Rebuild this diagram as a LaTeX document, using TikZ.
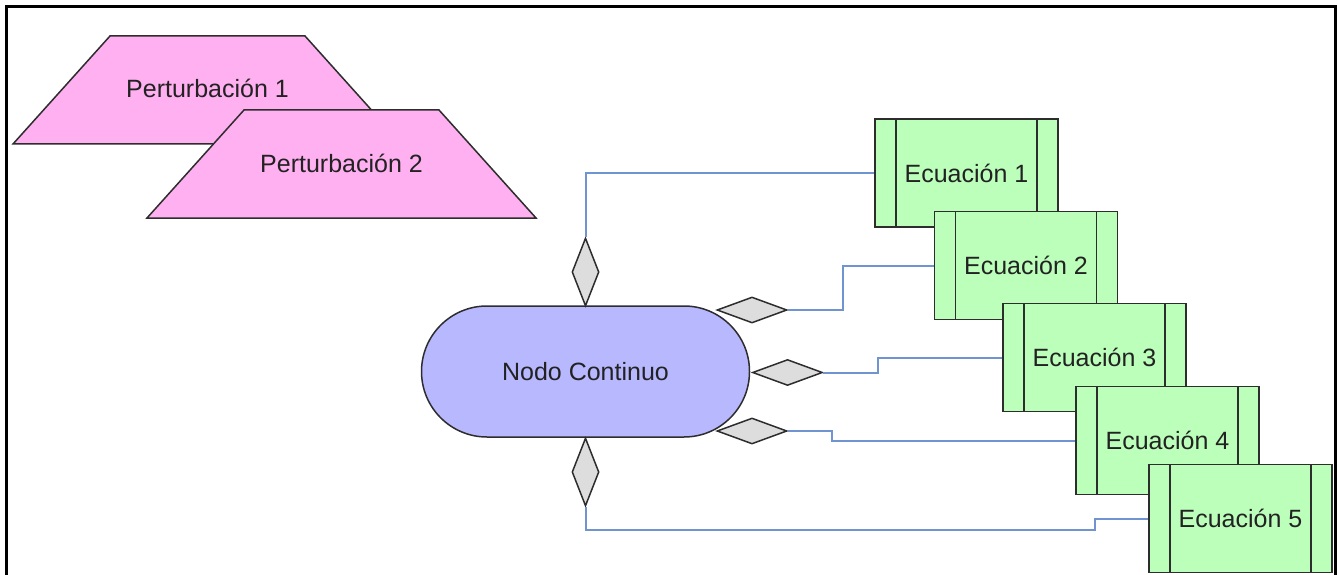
\documentclass[tikz,border=0pt]{standalone}
\usepackage{fontspec}
\setmainfont{Liberation Sans}
\usetikzlibrary{shapes.geometric}
\definecolor{pinkfill}{RGB}{255,176,240}
\definecolor{nodefill}{RGB}{184,184,255}
\definecolor{eqfill}{RGB}{187,255,187}
\definecolor{dmfill}{RGB}{221,221,221}
\definecolor{edgeblue}{RGB}{111,148,208}
\definecolor{outline}{RGB}{45,45,45}
\definecolor{txt}{RGB}{34,34,34}
\begin{document}
\begin{tikzpicture}[x=1pt,y=-1pt,
  lbl/.style={font=\fontsize{25}{30}\selectfont, text=txt, inner sep=0pt},
  trap/.style={fill=pinkfill, draw=outline, line width=1.5pt, line join=miter},
  stadium/.style={draw=outline, fill=nodefill, line width=1.5pt, rounded corners=65.5pt,
     minimum width=328pt, minimum height=131pt, inner sep=0pt, font=\fontsize{25}{30}\selectfont, text=txt},
  dmv/.style={diamond, draw=outline, fill=dmfill, line width=1.5pt, inner sep=0pt,
     minimum width=27pt, minimum height=68pt},
  dmh/.style={diamond, draw=outline, fill=dmfill, line width=1.5pt, inner sep=0pt,
     minimum width=70pt, minimum height=26pt},
  eqbox/.style={draw=outline, fill=eqfill, line width=1.5pt, minimum width=183pt, minimum height=108pt,
     inner sep=0pt, font=\fontsize{25}{30}\selectfont, text=txt,
     path picture={
       \draw[outline, line width=1.5pt] ([xshift=21pt]path picture bounding box.north west) -- ([xshift=21pt]path picture bounding box.south west);
       \draw[outline, line width=1.5pt] ([xshift=-21pt]path picture bounding box.north east) -- ([xshift=-21pt]path picture bounding box.south east);
     }},
  conn/.style={draw=edgeblue, line width=2pt}
]
\useasboundingbox (0,0) rectangle (1338,575);
\begin{scope}
\clip (0,0) rectangle (1338,575);
% frame
\draw[line width=3pt] (6.5,580) -- (6.5,6.5) -- (1335.5,6.5) -- (1335.5,580);

% perturbation trapezoids
\filldraw[trap] (110,36) -- (305,36) -- (402,144) -- (13,144) -- cycle;
\node[lbl] (p1) at (207.5,88) {Perturbación 1};
\filldraw[trap] (244,110) -- (439,110) -- (536,218) -- (147,218) -- cycle;
\node[lbl] (p2) at (341.5,163) {Perturbación 2};

% connectors (drawn first, under shapes)
\coordinate (c5) at (1094.5,530);

% main node
\node[stadium] (nc) at (585.5,371.5) {Nodo Continuo};

% diamonds
\node[dmv] (d1) at (585.5,272) {};
\node[dmh] (d2) at (752,310) {};
\node[dmh] (d3) at (787.5,372.5) {};
\node[dmh] (d4) at (752,431) {};
\node[dmv] (d5) at (585.5,472) {};

% equation boxes
\node[eqbox] (e1) at (966.5,173) {Ecuación 1};
\node[eqbox] (e2) at (1026,265.5) {Ecuación 2};
\node[eqbox] (e3) at (1094.5,357.5) {Ecuación 3};
\node[eqbox] (e4) at (1167.5,440.5) {Ecuación 4};
\node[eqbox] (e5) at (1240.5,518.5) {Ecuación 5};

% connectors
\draw[conn] (d1.north) |- (e1.west);
\draw[conn] (d2.east) -- ++(55,0) |- (e2.west);
\draw[conn] (d3.east) -- ++(55,0) |- (e3.west);
\draw[conn] (d4.east) -- ++(44,0) |- (e4.west);
\draw[conn] (d5.south) |- (c5) |- (e5.west);
\end{scope}
\end{tikzpicture}
\end{document}
